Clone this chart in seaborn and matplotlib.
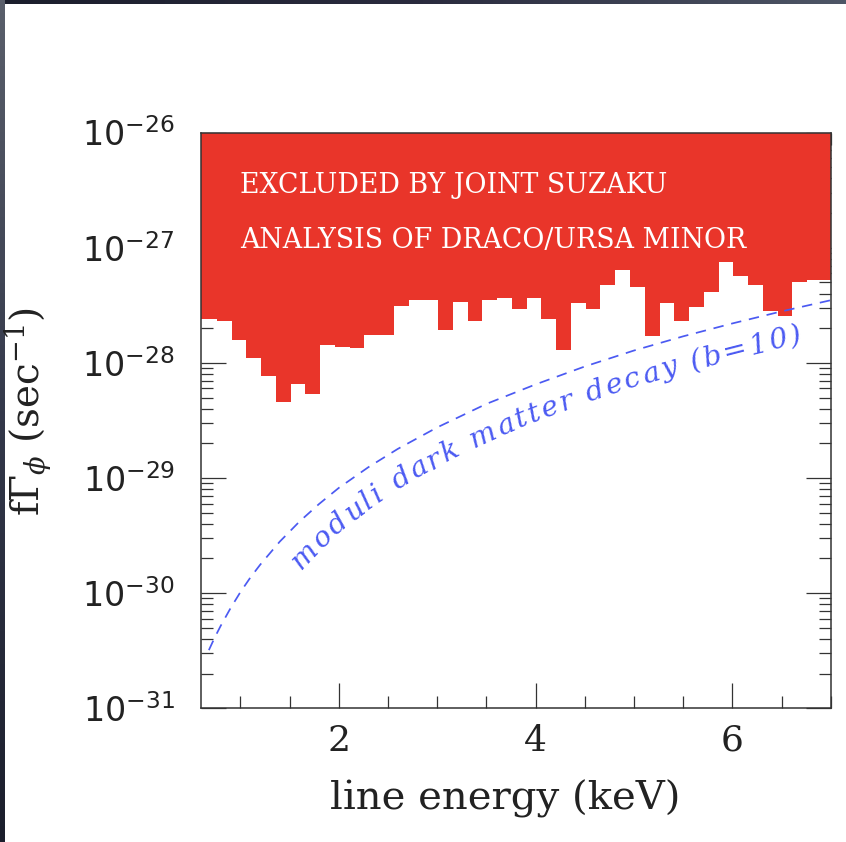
import numpy as np
import matplotlib
matplotlib.use("Agg")
import matplotlib.pyplot as plt
import seaborn as sns
from matplotlib import transforms as mtransforms
from matplotlib.colors import LinearSegmentedColormap
from matplotlib.font_manager import FontProperties
from matplotlib.ticker import FixedLocator, FixedFormatter, MultipleLocator, LogLocator, NullFormatter

# Joint Suzaku (Draco / Ursa Minor) upper limit, one value per 0.15 keV energy bin
bin_start = 0.61
bin_width = 0.15
limit = [2.39e-28, 2.29e-28, 1.58e-28, 1.11e-28, 7.66e-29, 4.55e-29, 6.52e-29, 5.34e-29,
         1.43e-28, 1.37e-28, 1.34e-28, 1.75e-28, 1.75e-28, 3.13e-28, 3.52e-28, 3.52e-28,
         1.93e-28, 3.40e-28, 2.32e-28, 3.52e-28, 3.64e-28, 2.94e-28, 3.64e-28, 2.39e-28,
         1.29e-28, 3.30e-28, 2.94e-28, 4.75e-28, 6.41e-28, 4.59e-28, 1.72e-28, 3.31e-28,
         2.31e-28, 3.08e-28, 4.10e-28, 7.57e-28, 5.72e-28, 4.75e-28, 2.82e-28, 2.55e-28,
         5.07e-28, 5.25e-28, 5.25e-28]

# Moduli dark matter decay prediction (b=10)
energy_mod = [0.68, 0.74, 0.8, 0.9, 1.0, 1.1, 1.2, 1.4, 1.6, 1.8, 2.0, 2.3, 2.6,
              3.0, 3.5, 4.0, 4.5, 5.0, 5.5, 6.0, 6.5, 7.0]
rate_mod = [3.2e-31, 4.13e-31, 5.2e-31, 7.4e-31, 1.02e-30, 1.36e-30, 1.76e-30, 2.8e-30,
            4.18e-30, 5.95e-30, 8.2e-30, 1.24e-29, 1.79e-29, 2.75e-29, 4.4e-29, 6.5e-29,
            9.3e-29, 1.28e-28, 1.70e-28, 2.2e-28, 2.8e-28, 3.5e-28]

y_ticks = [1e-31, 1e-30, 1e-29, 1e-28, 1e-27, 1e-26]
y_tick_labels = [r"$10^{-31}$", r"$10^{-30}$", r"$10^{-29}$", r"$10^{-28}$",
                 r"$10^{-27}$", r"$10^{-26}$"]
x_ticks = [2, 4, 6]
x_tick_labels = ["2", "4", "6"]

region_text = ["EXCLUDED BY JOINT SUZAKU", "ANALYSIS OF DRACO/URSA MINOR"]
curve_text = "moduli dark matter decay (b=10)"

RED = "#E9352A"
BLUE = "#4B5AF2"
INK = "#333333"

sns.set_theme(style="ticks")
plt.rcParams["font.family"] = ["DejaVu Serif"]
plt.rcParams["mathtext.fontset"] = "dejavuserif"

W, H = 846, 842
fig = plt.figure(figsize=(W / 100, H / 100), dpi=100)
fig.patch.set_facecolor("white")

# thin dark frame along top and left edges
top_strip = fig.add_axes([0, 1 - 4 / H, 1, 4 / H])
top_strip.imshow(np.linspace(0, 1, 256)[None, :], aspect="auto", extent=[0, 1, 0, 1],
                 cmap=LinearSegmentedColormap.from_list("t", ["#1b1e2c", "#2a2b3e", "#4e5666"]))
top_strip.axis("off")
left_strip = fig.add_axes([0, 0, 4.5 / W, 1])
left_strip.imshow(np.linspace(1, 0, 256)[:, None], aspect="auto", extent=[0, 1, 0, 1],
                  cmap=LinearSegmentedColormap.from_list("l", ["#1b1e2c", "#33384a", "#5a5f6b"]))
left_strip.axis("off")

x0, x1 = 201 / W, 830.7 / W
y0, y1 = 1 - 708.3 / H, 1 - 132.6 / H
ax = fig.add_axes([x0, y0, x1 - x0, y1 - y0])
ax.set_facecolor("white")
ax.set_yscale("log")
ax.set_xlim(0.6, 7.0)
ax.set_ylim(1e-31, 1e-26)

# excluded region above the step limit
edges = bin_start + bin_width * np.arange(len(limit) + 1)
edges[0] = 0.6
edges[-1] = 7.0
ax.fill_between(edges, np.append(limit, limit[-1]), 1e-26, step="post",
                color=RED, linewidth=0, zorder=1)

# predicted decay rate
sns.lineplot(x=energy_mod, y=rate_mod, ax=ax, color=BLUE, linewidth=1.25,
             linestyle=(0, (6.0, 4.5)), zorder=3)

# axes styling
for sp in ax.spines.values():
    sp.set_color(INK)
    sp.set_linewidth(1.1)
    sp.set_zorder(4)
ax.xaxis.set_major_locator(FixedLocator(x_ticks))
ax.xaxis.set_major_formatter(FixedFormatter(x_tick_labels))
ax.xaxis.set_minor_locator(MultipleLocator(0.5))
ax.yaxis.set_major_locator(FixedLocator(y_ticks))
ax.yaxis.set_major_formatter(FixedFormatter(y_tick_labels))
ax.yaxis.set_minor_locator(LogLocator(base=10, subs=np.arange(2, 10), numticks=20))
ax.yaxis.set_minor_formatter(NullFormatter())
ax.tick_params(which="both", direction="in", top=True, right=True, color=INK)
ax.tick_params(which="major", length=18, width=0.9)
ax.tick_params(which="minor", length=8.6, width=0.9)
ax.tick_params(axis="x", which="major", labelsize=26, pad=11)
ax.tick_params(axis="y", which="major", labelsize=24, pad=19)
for lab in ax.get_yticklabels():
    lab.set_math_fontfamily("dejavusans")
    lab.set_color("#222222")
for lab in ax.get_xticklabels():
    lab.set_color("#222222")

ax.set_xlabel("line energy (keV)", fontsize=29, color="#222222")
ax.xaxis.set_label_coords(0.483, -0.124)
ax.set_ylabel(r"f$\Gamma_{\phi}$ (sec$^{-1}$)", fontsize=28, color="#222222")
ax.yaxis.set_label_coords(-0.232, 0.515)

ax.text(0.062, 0.895, region_text[0], transform=ax.transAxes, color="white",
        fontsize=19.3, va="baseline", ha="left", zorder=5)
ax.text(0.062, 0.7995, region_text[1], transform=ax.transAxes, color="white",
        fontsize=19.3, va="baseline", ha="left", zorder=5)

# label written along the curve, just below it
fig.canvas.draw()
renderer = fig.canvas.get_renderer()
prop = FontProperties(family="DejaVu Serif", style="italic", size=20.5)
letter_gap = 2.5
coef = np.polyfit(np.log10(energy_mod), np.log10(rate_mod), 2)
e_guide = np.linspace(1.2, 7.0, 800)
v_guide = 10 ** np.polyval(coef, np.log10(e_guide))
P = ax.transData.transform(np.column_stack([e_guide, v_guide]))
dP = np.gradient(P, axis=0)
t = dP / np.hypot(dP[:, 0], dP[:, 1])[:, None]
nrm = np.column_stack([t[:, 1], -t[:, 0]])
offset_px = 35
B = P + offset_px * nrm
dB = np.gradient(B, axis=0)
ang = np.degrees(np.arctan2(dB[:, 1], dB[:, 0]))
s = np.concatenate([[0], np.cumsum(np.hypot(np.diff(B[:, 0]), np.diff(B[:, 1])))])
start_x = 301
s0 = np.interp(start_x, B[:, 0], s)

def advance(sub):
    wx = renderer.get_text_width_height_descent("x", prop, ismath=False)[0]
    if not sub:
        return 0.0
    return renderer.get_text_width_height_descent(sub + "x", prop, ismath=False)[0] - wx

for i, ch in enumerate(curve_text):
    a0 = advance(curve_text[:i])
    a1 = advance(curve_text[:i + 1])
    if ch == " ":
        continue
    sc = s0 + 0.5 * (a0 + a1) + letter_gap * i
    bx = np.interp(sc, s, B[:, 0])
    by = np.interp(sc, s, B[:, 1])
    rot = np.interp(sc, s, ang)
    fig.text(bx, by, ch, transform=mtransforms.IdentityTransform(), fontproperties=prop,
             color=BLUE, ha="center", va="baseline", rotation=rot, rotation_mode="anchor")

fig.savefig("out.png", dpi=100)
